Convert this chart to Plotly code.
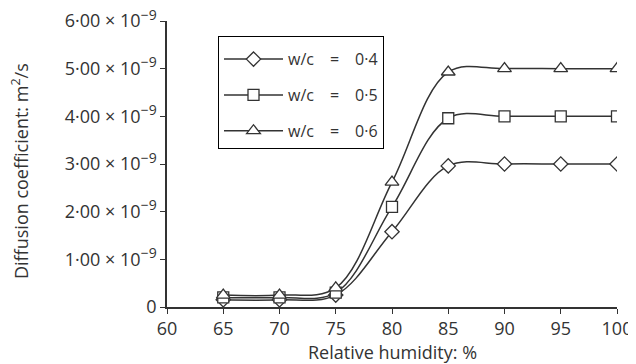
import plotly.graph_objects as go

humidity = [65, 70, 75, 80, 85, 90, 95, 100]
wc04 = [0.15e-9, 0.15e-9, 0.25e-9, 1.58e-9, 2.96e-9, 3.0e-9, 3.0e-9, 3.0e-9]
wc05 = [0.2e-9, 0.2e-9, 0.3e-9, 2.1e-9, 3.96e-9, 4.0e-9, 4.0e-9, 4.0e-9]
wc06 = [0.25e-9, 0.25e-9, 0.4e-9, 2.62e-9, 4.93e-9, 5.0e-9, 5.0e-9, 5.0e-9]
series_names = ["w/c\u2003=\u20030·4", "w/c\u2003=\u20030·5", "w/c\u2003=\u20030·6"]
y_tickvals = [0, 1e-9, 2e-9, 3e-9, 4e-9, 5e-9, 6e-9]
y_ticktext = ["0"] + [f"{v}·00 × 10<sup><span style='font-size:14px'>−9</span></sup>"
                      for v in range(1, 7)]
x_tickvals = [60, 65, 70, 75, 80, 85, 90, 95, 100]

col = "#333333"
symbols = ["diamond", "square", "triangle-up"]
sizes = [11, 11, 12]

# page body has an 8px margin, so the figure is laid out 8px smaller
W, H = 628, 356
L, T, R_, B = 159, 13, 19, 57
pw, ph = W - L - R_, H - T - B

fig = go.Figure()
for i, (name, ys, sym, sz) in enumerate(zip(series_names, [wc04, wc05, wc06], symbols, sizes)):
    fig.add_trace(go.Scatter(
        x=humidity, y=ys, name=name, mode="lines+markers", legendgroup=f"g{i}",
        line=dict(color=col, width=1.5, shape="spline", smoothing=1.0),
        marker=dict(symbol=sym, size=sz, color="white",
                    line=dict(color=col, width=1.3)),
    ))

fig.update_layout(
    width=W, height=H,
    margin=dict(l=L, r=R_, t=T, b=B),
    paper_bgcolor="white", plot_bgcolor="white",
    font=dict(family="Open Sans, Noto Sans, sans-serif", size=18, color=col),
    legend=dict(x=(210 - L) / pw, y=(T + ph - 28) / ph, xanchor="left", yanchor="top",
                bordercolor="black", borderwidth=1, bgcolor="white",
                font=dict(size=16), tracegroupgap=12, traceorder="grouped",
                itemwidth=59,
                title=dict(text="\u00a0", font=dict(size=4))),
    showlegend=True,
    annotations=[
        dict(text="Relative humidity: %", xref="paper", yref="paper",
             x=0.5, y=-(344 - (T + ph)) / ph, xanchor="center", yanchor="middle",
             showarrow=False, font=dict(size=18)),
        dict(text="Diffusion coefficient: m<sup>2</sup>/s", xref="paper", yref="paper",
             x=-(L - 12) / pw, y=(T + ph - 163) / ph, xanchor="center", yanchor="middle",
             textangle=-90, showarrow=False, font=dict(size=18)),
    ],
)
fig.update_xaxes(range=[60, 100], tickvals=x_tickvals, showline=True,
                 linecolor=col, linewidth=1.5, ticks="outside", ticklen=5,
                 tickcolor=col, showgrid=False, zeroline=False, automargin=False,
                 ticklabeloverflow="allow")
fig.update_yaxes(range=[0, 6.0001e-9], tickvals=y_tickvals, ticktext=y_ticktext,
                 showline=True, linecolor=col, linewidth=1.5, ticks="outside",
                 ticklen=5, tickcolor=col, showgrid=False, zeroline=False,
                 automargin=False, ticklabeloverflow="allow")

fig.write_html("out.html")
